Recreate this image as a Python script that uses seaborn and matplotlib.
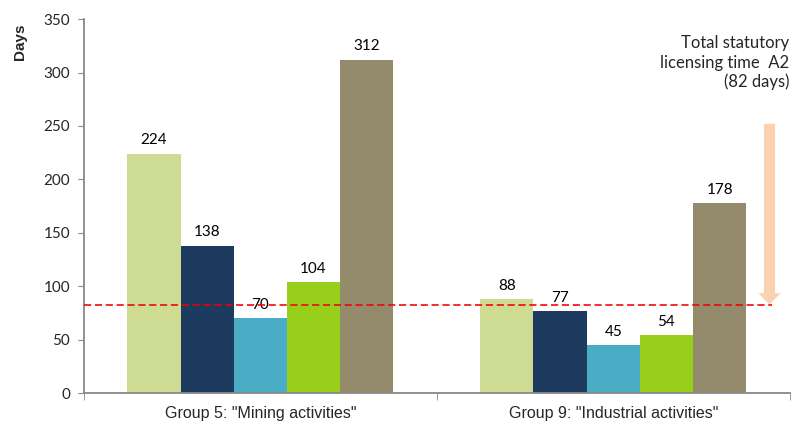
import matplotlib
matplotlib.use("Agg")
import matplotlib.pyplot as plt
import seaborn as sns
import pandas as pd

groups = ['Group 5: "Mining activities"', 'Group 9: "Industrial activities"']
series = ["S1", "S2", "S3", "S4", "S5"]
values_g5 = [224, 138, 70, 104, 312]
values_g9 = [88, 77, 45, 54, 178]
colors = ["#CEDB92", "#1D3A5F", "#4BACC6", "#97CF1A", "#948B6C"]
statutory_days = 82

rows = []
for g, vals in zip(groups, [values_g5, values_g9]):
    for s, v in zip(series, vals):
        rows.append({"group": g, "series": s, "days": v})
df = pd.DataFrame(rows)

sns.set_style("white")
plt.rcParams["font.family"] = ["Lato", "DejaVu Sans"]

fig = plt.figure(figsize=(7.92, 4.24), dpi=100)
ax = fig.add_axes([0.106, 0.073, 0.891, 0.882])

sns.barplot(data=df, x="group", y="days", hue="series", palette=colors,
            width=0.754, gap=0, legend=False, ax=ax, saturation=1, linewidth=0)

for c in ax.containers:
    ax.bar_label(c, padding=4.5, fontsize=11, color="black")

ax.set_xlim(-0.5, 1.5)
ax.set_ylim(0, 350)
ax.set_yticks(range(0, 351, 50))
ax.set_xlabel("")
ax.set_ylabel("Days", fontsize=11, fontweight="bold", family=["Liberation Sans"])
ax.yaxis.set_label_coords(-0.081, 0.94)
ax.tick_params(axis="y", labelsize=11, length=4, color="#888888", left=True, pad=6)
ax.set_xticks([-0.5, 0.5, 1.5], minor=True)
ax.tick_params(axis="x", which="major", length=0, pad=9, labelsize=11.5)
ax.tick_params(axis="x", which="minor", length=5, color="#888888", bottom=True)
for lbl in ax.get_xticklabels():
    lbl.set_family(["Liberation Sans"])
for sp in ["top", "right"]:
    ax.spines[sp].set_visible(False)
for sp in ["left", "bottom"]:
    ax.spines[sp].set_color("#888888")
    ax.spines[sp].set_linewidth(1.3)

ax.plot([-0.5, 1.449], [statutory_days, statutory_days], color="#F00000",
        linestyle=(0, (4.5, 2.3)), linewidth=1.15, zorder=5)

ax.annotate("", xy=(1.443, 83), xytext=(1.443, 252),
            arrowprops=dict(arrowstyle="simple,head_length=8,head_width=16,tail_width=8",
                            mutation_scale=1, color="#FAD2B0", lw=0,
                            shrinkA=0, shrinkB=0))

ax.text(1.5, 309, "Total statutory\nlicensing time  A2\n(82 days)", ha="right", va="center",
        fontsize=12, linespacing=1.25)

fig.savefig("out.png", dpi=100)
